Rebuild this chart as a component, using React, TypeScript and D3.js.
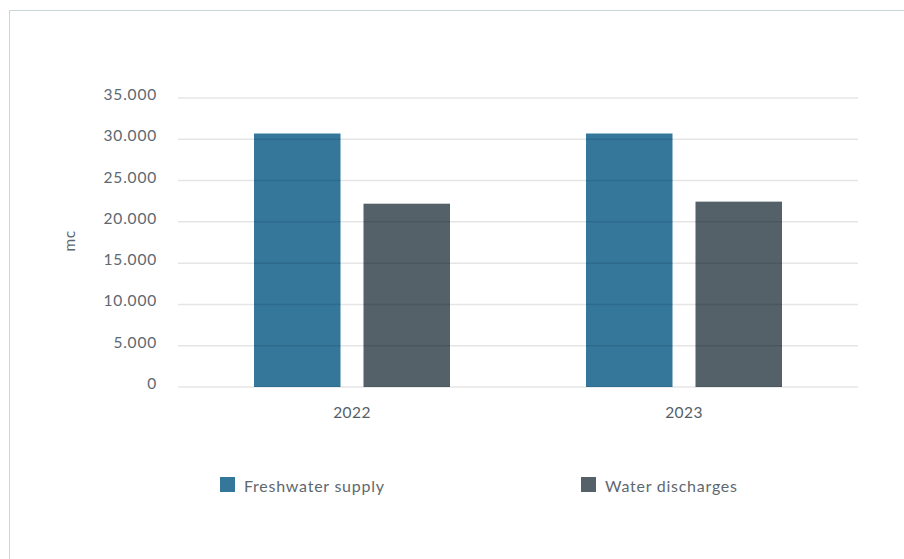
import React from "react";
import * as d3 from "d3";

const categories = ["2022", "2023"];
const seriesNames = ["Freshwater supply", "Water discharges"];
const freshwater = [30700, 30700];
const discharges = [22200, 22450];
const yTicks = [0, 5000, 10000, 15000, 20000, 25000, 30000, 35000];
const colors = ["#34779b", "#546169"];

export default function App() {
  const W = 904, H = 559;
  const y = d3.scaleLinear().domain([0, 35000]).range([387, 98]);
  const x = d3.scaleBand().domain(categories).range([186, 850]).padding(0);
  const inner = d3.scaleBand().domain(seriesNames).range([0, 196]).paddingInner(0.21);
  const series = [freshwater, discharges];
  const fmt = (v: number) => d3.format(",")(v).replace(/,/g, ".");
  const font = "Lato, 'Open Sans', sans-serif";
  const gx0 = 178, gx1 = 858;
  return (
    <svg width={W} height={H} style={{ position: "absolute", left: 0, top: 0, fontFamily: font }}>
      <rect x={0} y={0} width={W} height={H} fill="#fff" />
      <path d={`M9.5,${H} V10.5 H${W}`} fill="none" stroke="#c9d5dd" strokeWidth={1} />
      {categories.map((c, i) => {
        const cx = x(c)! + x.bandwidth() / 2;
        return series.map((s, j) => (
          <rect key={c + j} x={cx - 98 + inner(seriesNames[j])!} y={y(s[i])} width={inner.bandwidth()} height={y(0) - y(s[i])} fill={colors[j]} />
        ));
      })}
      {yTicks.map((t) => (
        <g key={t}>
          <line x1={gx0} x2={gx1} y1={y(t)} y2={y(t)} stroke="#000" strokeOpacity={0.1} strokeWidth={1.5} />
          <text x={157} y={y(t) + 2} textAnchor="end" fontSize={15.5} letterSpacing={0.8} fill="#5d6870">{fmt(t)}</text>
        </g>
      ))}
      {categories.map((c) => (
        <text key={c} x={x(c)! + x.bandwidth() / 2} y={418} textAnchor="middle" fontSize={15.5} letterSpacing={0.4} fill="#555e66">{c}</text>
      ))}
      <text transform="translate(75,241) rotate(-90)" textAnchor="middle" fontSize={15.5} letterSpacing={0.5} fill="#5d6870">mc</text>
      {seriesNames.map((n, j) => {
        const lx = j === 0 ? 220 : 581;
        return (
          <g key={n}>
            <rect x={lx} y={477} width={15} height={15} fill={colors[j]} />
            <text x={lx + 24} y={492} fontSize={16} letterSpacing={0.75} fill="#5d6870">{n}</text>
          </g>
        );
      })}
    </svg>
  );
}
